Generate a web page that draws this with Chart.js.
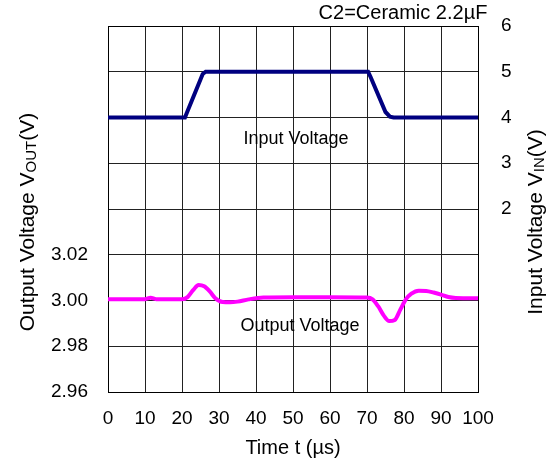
<!DOCTYPE html>
<html>
<head>
<meta charset="utf-8">
<script src="https://cdn.jsdelivr.net/npm/chart.js@4.4.1/dist/chart.umd.min.js"></script>
<style>
html,body{margin:0;padding:0;background:#fff;}
#wrap{width:553px;height:464px;position:relative;}
</style>
</head>
<body>
<div id="wrap"><canvas id="c" width="553" height="464"></canvas></div>
<script>
// ---- data ----
const inputTime  = [0, 20.8, 21.4, 25.6, 26.4, 70.3, 71.0, 75.0, 76.2, 77.2, 100];
const inputVolt  = [4, 4, 4.12, 4.95, 5, 5, 4.88, 4.12, 4.02, 4, 4];
const outputTime = [0, 10, 11.5, 13, 20, 21.5, 23, 24.5, 26, 27.5, 29, 31, 33, 35, 38, 42, 50, 60, 70, 71.5, 73, 74.5, 76, 77.5, 79, 80.5, 82, 84, 86, 88, 90, 92, 94, 100];
const outputVolt = [3.0006, 3.0006, 3.0012, 3.0006, 3.0006, 3.0015, 3.0045, 3.0068, 3.0062, 3.004, 3.001, 2.9993, 2.9992, 2.9995, 3.0005, 3.0013, 3.0014, 3.0014, 3.0013, 3.0005, 2.9975, 2.9935, 2.991, 2.9915, 2.996, 3.0005, 3.003, 3.0043, 3.0042, 3.0035, 3.0026, 3.0015, 3.0011, 3.001];
const timeTicks  = [0, 10, 20, 30, 40, 50, 60, 70, 80, 90, 100];
const voutTicks  = [2.96, 2.98, 3.00, 3.02];
const vinTicks   = [2, 3, 4, 5, 6];

const FONT = "'Liberation Sans', Arial, sans-serif";

const textPlugin = {
  id: 'texts',
  afterDraw(chart) {
    const ctx = chart.ctx;
    ctx.save();
    ctx.fillStyle = '#000';
    ctx.textAlign = 'center';
    ctx.textBaseline = 'middle';
    ctx.font = '20px ' + FONT;
    ctx.fillText('C2=Ceramic 2.2\u00b5F', 403, 13);
    ctx.fillText('Time t (\u00b5s)', 293, 448);
    ctx.font = '18px ' + FONT;
    ctx.fillText('Input Voltage', 296, 139);
    ctx.fillText('Output Voltage', 300, 326);
    function rot(cx, cy, parts) {
      ctx.save();
      ctx.translate(cx, cy);
      ctx.rotate(-Math.PI / 2);
      ctx.textAlign = 'left';
      ctx.textBaseline = 'alphabetic';
      let total = 0;
      parts.forEach(p => { ctx.font = p.size + 'px ' + FONT; p.w = ctx.measureText(p.t).width; total += p.w; });
      let x = -total / 2;
      parts.forEach(p => { ctx.font = p.size + 'px ' + FONT; ctx.fillText(p.t, x, 7 + p.dy); x += p.w; });
      ctx.restore();
    }
    rot(27, 222, [{t:'Output Voltage V', size:21, dy:0}, {t:'OUT', size:15, dy:2}, {t:'(V)', size:21, dy:0}]);
    rot(535, 222, [{t:'Input Voltage V', size:21, dy:0}, {t:'IN', size:15, dy:2}, {t:'(V)', size:21, dy:0}]);
    ctx.restore();
  }
};

function fixV(w) {
  return function (s) { s.width = w; s.paddingTop = 0; s.paddingBottom = 0; };
}

new Chart(document.getElementById('c'), {
  type: 'line',
  data: {
    datasets: [
      {
        label: 'Input Voltage',
        data: inputTime.map((t, i) => ({x: t, y: inputVolt[i]})),
        yAxisID: 'yR',
        borderColor: '#000080',
        borderWidth: 4,
        pointRadius: 0,
        tension: 0
      },
      {
        label: 'Output Voltage',
        data: outputTime.map((t, i) => ({x: t, y: outputVolt[i]})),
        yAxisID: 'yL',
        borderColor: '#ff00ff',
        borderWidth: 4,
        pointRadius: 0,
        cubicInterpolationMode: 'monotone'
      }
    ]
  },
  options: {
    responsive: false,
    animation: false,
    events: [],
    layout: { padding: { top: 26, left: 0, right: 0, bottom: 0 } },
    plugins: { legend: { display: false }, title: { display: false }, tooltip: { enabled: false } },
    scales: {
      x: {
        type: 'linear', min: 0, max: 100,
        afterFit(s) { s.height = 72; s.paddingLeft = 0; s.paddingRight = 0; },
        afterBuildTicks(s) { s.ticks = timeTicks.map(v => ({value: v})); },
        ticks: { color: '#000', font: { family: FONT, size: 19 }, padding: 15, maxRotation: 0, autoSkip: false },
        grid: { color: '#222', lineWidth: 1, drawTicks: false },
        border: { color: '#000', width: 1 }
      },
      yL: {
        type: 'linear', position: 'left', min: 2.96, max: 3.12,
        afterFit: fixV(108),
        afterBuildTicks(s) { const a = []; for (let i = 0; i <= 8; i++) a.push({value: 2.96 + i * 0.02}); s.ticks = a; },
        ticks: {
          color: '#000', font: { family: FONT, size: 19 }, padding: 20,
          callback(v) { const r = Math.round(v * 100) / 100; return voutTicks.some(t => Math.abs(t - r) < 1e-6) ? r.toFixed(2) : ''; }
        },
        grid: { color: '#222', lineWidth: 1, drawTicks: false },
        border: { color: '#000', width: 1 }
      },
      yR: {
        type: 'linear', position: 'right', min: -2, max: 6,
        afterFit: fixV(75),
        afterBuildTicks(s) { const a = []; for (let i = -2; i <= 6; i++) a.push({value: i}); s.ticks = a; },
        ticks: {
          color: '#000', font: { family: FONT, size: 19 }, padding: 23,
          callback(v) { return vinTicks.includes(Math.round(v)) ? String(Math.round(v)) : ''; }
        },
        grid: { display: false, drawTicks: false },
        border: { color: '#000', width: 1 }
      }
    }
  },
  plugins: [textPlugin, {
    id: 'topBorder',
    beforeDatasetsDraw(chart) {
      const a = chart.chartArea, ctx = chart.ctx;
      ctx.save(); ctx.strokeStyle = '#000'; ctx.lineWidth = 1;
      ctx.beginPath(); ctx.moveTo(a.left, a.top + 0.5); ctx.lineTo(a.right, a.top + 0.5); ctx.stroke();
      ctx.restore();
    }
  }]
});
</script>
</body>
</html>
